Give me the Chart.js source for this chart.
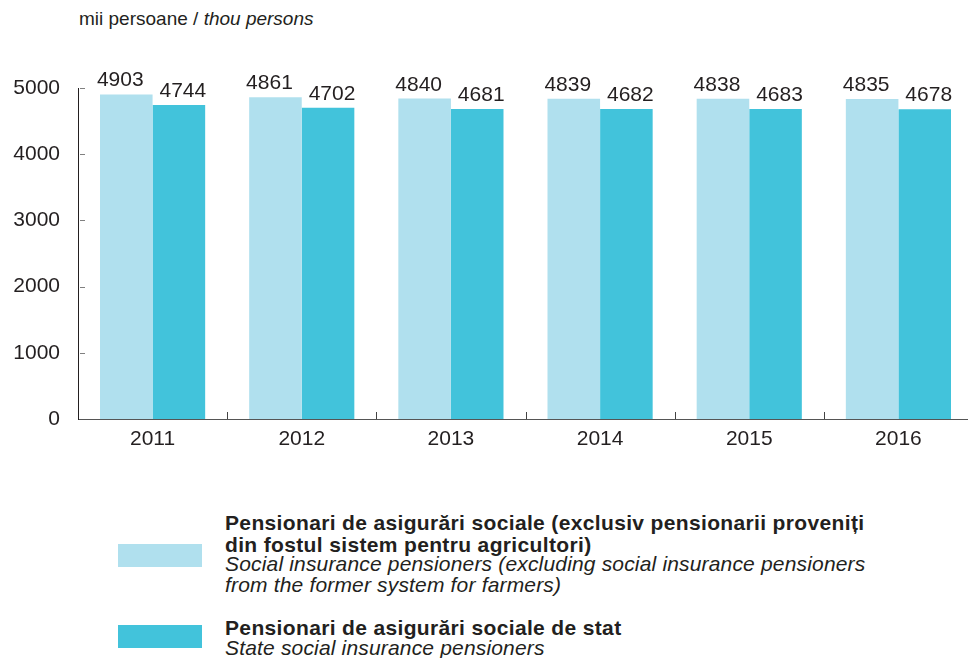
<!DOCTYPE html>
<html>
<head>
<meta charset="utf-8">
<script src="https://cdn.jsdelivr.net/npm/chart.js@4.4.1/dist/chart.umd.min.js"></script>
<style>
  html, body { margin: 0; padding: 0; background: #fff; overflow: hidden; width: 968px; height: 658px; }
  body { font-family: "Liberation Sans", Arial, Helvetica, sans-serif; color: #231f20; position: relative; }
  #wrap { position: absolute; left: 0; top: 0; width: 980px; height: 470px; }
  #title { position: absolute; left: 79px; top: 8px; font-size: 19px; line-height: 22px; white-space: nowrap; }
  .leg { position: absolute; left: 225px; font-size: 21px; white-space: nowrap; }
  .b { font-weight: bold; line-height: 22px; letter-spacing: 0.35px; }
  .it { font-style: italic; line-height: 21.3px; letter-spacing: 0.17px; }
  .sw { position: absolute; left: 118px; width: 84px; height: 23px; }
</style>
</head>
<body>
<div id="title">mii persoane / <i>thou persons</i></div>
<div id="wrap"><canvas id="c" width="980" height="470"></canvas></div>
<div class="sw" style="top:544px;background:#b0e0ee"></div>
<div class="leg b" style="top:512.4px">Pensionari de asigurări sociale (exclusiv pensionarii proveniți<br>din fostul sistem pentru agricultori)</div>
<div class="leg it" style="top:553.1px">Social insurance pensioners (excluding social insurance pensioners<br>from the former system for farmers)</div>
<div class="sw" style="top:625px;background:#42c3db"></div>
<div class="leg b" style="top:616.7px">Pensionari de asigurări sociale de stat</div>
<div class="leg it" style="top:637.1px">State social insurance pensioners</div>
<script>
const years = ['2011', '2012', '2013', '2014', '2015', '2016'];
const socialInsurance = [4903, 4861, 4840, 4839, 4838, 4835];
const stateSocialInsurance = [4744, 4702, 4681, 4682, 4683, 4678];
const yTicks = [0, 1000, 2000, 3000, 4000, 5000];
const seriesLabels = [
  'Pensionari de asigurări sociale (exclusiv pensionarii proveniți din fostul sistem pentru agricultori)',
  'Pensionari de asigurări sociale de stat'
];

const TXT = '#231f20';
const FONT = '"Liberation Sans", Arial, Helvetica, sans-serif';

const valueLabels = {
  id: 'valueLabels',
  afterDatasetsDraw(chart) {
    const ctx = chart.ctx;
    ctx.save();
    ctx.font = '21px ' + FONT;
    ctx.fillStyle = TXT;
    ctx.textAlign = 'center';
    ctx.textBaseline = 'alphabetic';
    const shifts = [-6, 4];
    chart.data.datasets.forEach((ds, di) => {
      const meta = chart.getDatasetMeta(di);
      meta.data.forEach((bar, i) => {
        ctx.fillText(String(ds.data[i]), bar.x + shifts[di], bar.y - 8);
      });
    });
    ctx.restore();
  }
};

const axisTicks = {
  id: 'axisTicks',
  afterDraw(chart) {
    const ctx = chart.ctx;
    const xs = chart.scales.x, ys = chart.scales.y;
    const area = chart.chartArea;
    ctx.save();
    ctx.lineWidth = 1;
    ctx.strokeStyle = '#808080';
    yTicks.forEach(v => {
      if (v === 0) return;
      const y = Math.round(ys.getPixelForValue(v)) + 0.5;
      ctx.beginPath();
      ctx.moveTo(area.left + 2, y);
      ctx.lineTo(area.left + 7, y);
      ctx.stroke();
    });
    ctx.strokeStyle = '#444';
    for (let i = 1; i < years.length; i++) {
      const x = Math.round((xs.getPixelForValue(i - 1) + xs.getPixelForValue(i)) / 2) + 0.5;
      ctx.beginPath();
      ctx.moveTo(x, area.bottom);
      ctx.lineTo(x, area.bottom - 7);
      ctx.stroke();
    }
    ctx.restore();
  }
};

new Chart(document.getElementById('c'), {
  type: 'bar',
  data: {
    labels: years,
    datasets: [
      { label: seriesLabels[0], data: socialInsurance, backgroundColor: '#b0e0ee', borderWidth: 0 },
      { label: seriesLabels[1], data: stateSocialInsurance, backgroundColor: '#42c3db', borderWidth: 0 }
    ]
  },
  options: {
    responsive: false,
    devicePixelRatio: 1,
    animation: false,
    datasets: { bar: { categoryPercentage: 0.705, barPercentage: 1 } },
    layout: { padding: { top: 88, right: 7, left: 0, bottom: 0 } },
    plugins: { legend: { display: false }, tooltip: { enabled: false } },
    scales: {
      x: {
        type: 'category',
        offset: true,
        grid: { display: false, drawTicks: false },
        border: { display: true, color: '#555', width: 1 },
        ticks: { color: TXT, font: { family: FONT, size: 21 }, padding: 8, maxRotation: 0 },
        afterFit(s) { s.height = 51; }
      },
      y: {
        min: 0, max: 5000,
        afterBuildTicks(s) { s.ticks = yTicks.map(v => ({ value: v })); },
        grid: { display: false, drawTicks: false },
        border: { display: true, color: '#231f20', width: 1 },
        ticks: { color: TXT, font: { family: FONT, size: 21 }, padding: 18, callback: v => String(v) },
        afterFit(s) { s.width = 78; }
      }
    }
  },
  plugins: [valueLabels, axisTicks]
});
</script>
</body>
</html>
